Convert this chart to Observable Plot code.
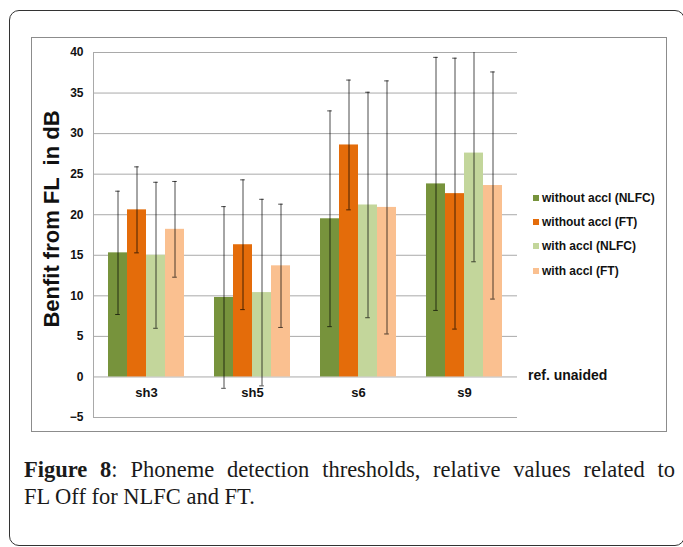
<!DOCTYPE html>
<html><head><meta charset="utf-8">
<script src="https://cdn.jsdelivr.net/npm/d3@7"></script>
<script src="https://cdn.jsdelivr.net/npm/@observablehq/plot@0.6"></script>
<style>
html,body{margin:0;padding:0;background:#fff;}
#page{position:relative;width:683px;height:547px;overflow:hidden;font-family:"Liberation Sans",Arial,sans-serif;color:#111;}
#outer{position:absolute;left:9px;top:10px;width:676px;height:536px;border:1.3px solid #333;border-radius:10px;box-sizing:border-box;}
#box{position:absolute;left:31px;top:37px;width:636px;height:395px;border:1px solid #8c8c8c;box-sizing:border-box;}
#chart{position:absolute;left:31px;top:37px;}
#ytitle{position:absolute;left:52px;top:219px;transform:translate(-50%,-50%) rotate(-90deg);font-size:22px;font-weight:bold;white-space:pre;}
#ref{position:absolute;left:528px;top:375px;transform:translateY(-50%);font-size:14px;font-weight:bold;white-space:nowrap;}
#legend{position:absolute;left:533px;top:186px;}
.lg{height:24.2px;display:flex;align-items:center;font-size:12px;font-weight:bold;white-space:nowrap;}
.sw{width:6px;height:6px;margin-right:3px;flex:none;}
#caption{position:absolute;left:24px;top:456px;width:651px;font-family:"Liberation Serif","Times New Roman",serif;font-size:22.5px;line-height:27px;color:#1a1a1a;}
#caption .l1{text-align:justify;text-align-last:justify;white-space:nowrap;}
</style></head>
<body><div id="page">
<div id="outer"></div>
<div id="box"></div>
<div id="chart"></div>
<div id="ytitle"></div>
<div id="ref"></div>
<div id="legend"></div>
<div id="caption"></div>
</div>
<script>
const categories = ["sh3", "sh5", "s6", "s9"];
const series = ["without accl (NLFC)", "without accl (FT)", "with accl (NLFC)", "with accl (FT)"];
const colors = ["#77933C", "#E46C0A", "#C3D69B", "#FAC090"];
const withoutNLFC = [15.3, 9.8, 19.5, 23.8];
const withoutFT = [20.6, 16.3, 28.6, 22.6];
const withNLFC = [15.0, 10.4, 21.2, 27.6];
const withFT = [18.2, 13.7, 20.9, 23.6];
const errWithoutNLFC = [7.6, 11.2, 13.3, 15.6];
const errWithoutFT = [5.3, 8.0, 8.0, 16.7];
const errWithNLFC = [9.0, 11.5, 13.9, 13.4];
const errWithFT = [5.9, 7.6, 15.6, 14.0];
const yTicks = [-5, 0, 5, 10, 15, 20, 25, 30, 35, 40];
const yTitle = "Benfit from FL  in dB";
const refLabel = "ref. unaided";
const captionBold = "Figure 8";
const captionLine1 = ": Phoneme detection thresholds, relative values related to";
const captionLine2 = "FL Off for NLFC and FT.";

const values = [withoutNLFC, withoutFT, withNLFC, withFT];
const errors = [errWithoutNLFC, errWithoutFT, errWithNLFC, errWithFT];
const rows = [];
series.forEach((s, j) => categories.forEach((c, i) => rows.push({cat: c, series: s, value: values[j][i], err: errors[j][i]})));

const lo = d => d.value - d.err;
const hi = d => d.value + d.err;
const capStyle = {fx: "cat", x: "series", insetLeft: 7.2, insetRight: 7.2, stroke: "#000", strokeOpacity: 0.7, strokeWidth: 1, clip: true};

const chart = Plot.plot({
  width: 636, height: 395,
  marginLeft: 61, marginRight: 150, marginTop: 15, marginBottom: 15,
  style: {fontFamily: "Liberation Sans, Arial, sans-serif", background: "transparent", color: "#111", overflow: "visible"},
  fx: {domain: categories, padding: 0, axis: null},
  x: {domain: series, paddingInner: 0, paddingOuter: 0.75, axis: null},
  y: {domain: [-5, 40], axis: null},
  color: {domain: series, range: colors},
  marks: [
    Plot.gridY(yTicks, {stroke: "#a9a9a9", strokeOpacity: 1, strokeWidth: 1}),
    Plot.frame({anchor: "left", facetAnchor: "left", stroke: "#a9a9a9"}),
    Plot.barY(rows, {fx: "cat", x: "series", y: "value", fill: "series"}),
    Plot.ruleX(rows, {fx: "cat", x: "series", y1: lo, y2: hi, stroke: "#000", strokeOpacity: 0.7, strokeWidth: 1, clip: true}),
    Plot.tickY(rows, {...capStyle, y: lo}),
    Plot.tickY(rows, {...capStyle, y: hi}),
    Plot.axisY(yTicks, {tickSize: 0, tickPadding: 10, fontSize: 12, fontWeight: "bold", label: null}),
    Plot.text(categories, {fx: d => d, text: d => d, frameAnchor: "bottom", dy: -20.5, fontSize: 13, fontWeight: "bold", fill: "#111"})
  ]
});
document.getElementById("chart").appendChild(chart);

document.getElementById("ytitle").textContent = yTitle;
document.getElementById("ref").textContent = refLabel;
const lg = document.getElementById("legend");
series.forEach((s, j) => {
  const row = document.createElement("div"); row.className = "lg";
  const sw = document.createElement("span"); sw.className = "sw"; sw.style.background = colors[j];
  const t = document.createElement("span"); t.textContent = s;
  row.appendChild(sw); row.appendChild(t); lg.appendChild(row);
});
const cap = document.getElementById("caption");
const l1 = document.createElement("div"); l1.className = "l1";
const b = document.createElement("b"); b.textContent = captionBold;
l1.appendChild(b); l1.appendChild(document.createTextNode(captionLine1));
const l2 = document.createElement("div"); l2.textContent = captionLine2;
cap.appendChild(l1); cap.appendChild(l2);
</script>
</body></html>
